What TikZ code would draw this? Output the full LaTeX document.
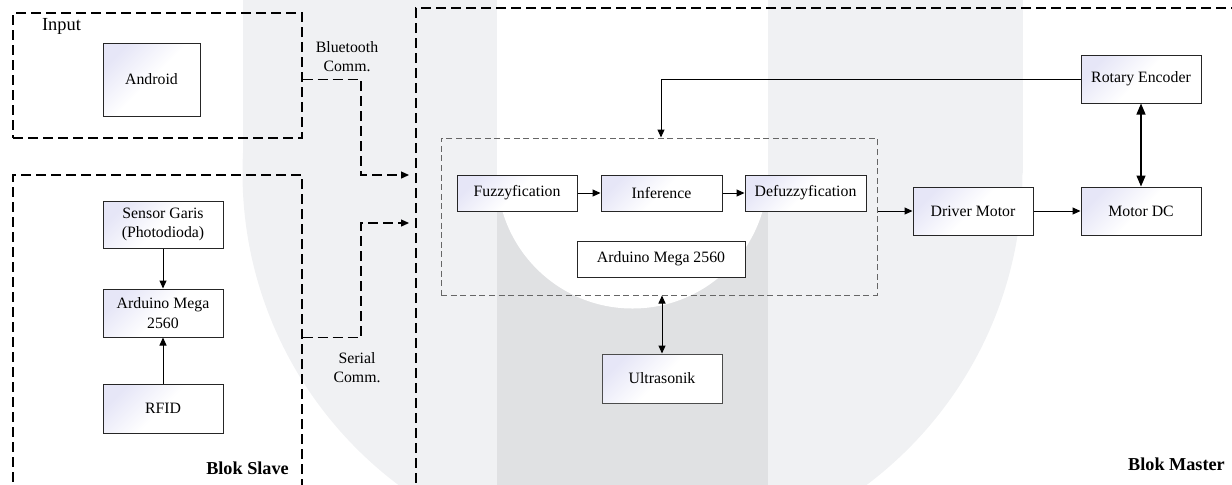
\documentclass[tikz,border=0pt]{standalone}
\usepackage{fontspec}
\setmainfont{Liberation Serif}
\usetikzlibrary{arrows.meta,calc}
\definecolor{wmlight}{RGB}{240,241,243}
\definecolor{wmdark}{RGB}{224,225,227}
\definecolor{lav}{RGB}{230,230,247}
\begin{document}
\begin{tikzpicture}[x=0.5pt,y=-0.5pt,
  txt/.style={font=\fontsize{7.9}{9.6}\selectfont, align=center},
  box/.style={txt, draw=black!85, line width=0.5pt, top color=lav, bottom color=white, middle color=white, shading angle=45, inner sep=1pt},
  plainbox/.style={txt, draw=black!85, line width=0.5pt, fill=white, inner sep=1pt},
  group/.style={draw=black, line width=0.65pt, dash pattern=on 5pt off 2.5pt},
  coregroup/.style={draw=black!60, line width=0.5pt, dash pattern=on 3pt off 1.8pt},
  arr/.style={-{Triangle[length=4pt,width=3.5pt]}, line width=0.5pt},
  darr/.style={{Triangle[length=4pt,width=3.5pt]}-{Triangle[length=4pt,width=3.5pt]}, line width=0.5pt},
  bigdarr/.style={{Triangle[length=5.5pt,width=4.5pt]}-{Triangle[length=5.5pt,width=4.5pt]}, line width=0.6pt},
  dasharr/.style={group, -{Triangle[length=4pt,width=3.5pt]}},
  blab/.style={font=\bfseries\fontsize{9.1}{11}\selectfont}
]
\clip (0,0) rectangle (1232,484);
% watermark
\fill[wmlight] (242.5,-10) rectangle (1022.5,173);
\fill[wmlight] (632.5,173) circle[radius=390];
\fill[wmdark] (497,173) rectangle (768,500);
\fill[white] (497,-10) rectangle (768,173);
\fill[white] (632.5,173) circle[radius=135.5];

% group frames
\node[group, minimum width=144.5pt, minimum height=62.5pt, inner sep=0pt] (inbox) at (157.5,75.5) {};
\node[group, minimum width=144.5pt, minimum height=162.5pt, inner sep=0pt] (slave) at (157.5,337.5) {};
\node[group, minimum width=417pt, minimum height=246pt, inner sep=0pt] (master) at (833,254) {};
\node[coregroup, minimum width=218pt, minimum height=78.5pt, inner sep=0pt] (core) at (659,216.5) {};

% labels
\node[font=\fontsize{9.2}{11}\selectfont] (inlbl) at (61.5,26) {Input};
\node[blab] (slavelbl) at (247.5,468) {Blok Slave};
\node[blab] (masterlbl) at (1176.5,464) {Blok Master};
\node[txt] (btlbl) at (347,56.5) {Bluetooth\\Comm.};
\node[txt] (serlbl) at (357,367.5) {Serial\\Comm.};

% boxes
\node[box, minimum width=48.5pt, minimum height=36.5pt] (android) at (151.5,79.5) {Android};
\node[box, minimum width=60pt, minimum height=23.5pt] (sensor) at (163,224.5) {Sensor Garis\\(Photodioda)};
\node[box, minimum width=60pt, minimum height=24pt] (ardS) at (163,313) {Arduino Mega\\2560};
\node[box, minimum width=60pt, minimum height=24.5pt] (rfid) at (163,408.5) {RFID};
\node[box, minimum width=60pt, minimum height=18pt] (fuzz) at (517,193) {Fuzzyfication};
\node[box, minimum width=60.5pt, minimum height=18pt] (inf) at (661.5,193) {Inference};
\node[box, minimum width=60.5pt, minimum height=18pt] (defuzz) at (805.5,193) {Defuzzyfication};
\node[plainbox, minimum width=84pt, minimum height=18pt] (ardM) at (661,259) {Arduino Mega 2560};
\node[box, minimum width=60pt, minimum height=24.5pt, draw=black!70] (ultra) at (662,378.5) {Ultrasonik};
\node[box, minimum width=60pt, minimum height=24pt] (driver) at (973,211) {Driver Motor};
\node[box, minimum width=60pt, minimum height=24pt] (motor) at (1141,211) {Motor DC};
\node[box, minimum width=60pt, minimum height=24pt] (rotary) at (1141,79) {Rotary Encoder};

% connector coordinates
\coordinate (jx) at (361,0);
\coordinate (btend) at (409,175);
\coordinate (seend) at (409,223);

% connectors
\draw[dasharr] (inbox.east |- android.center) -| (jx |- btend) -- (btend);
\draw[dasharr] (slave.east |- ardS.south) -| (jx |- seend) -- (seend);
\draw[arr] (sensor) -- (ardS);
\draw[arr] (rfid) -- (ardS);
\draw[arr] (fuzz) -- (inf);
\draw[arr] (inf) -- (defuzz);
\draw[arr] (driver.west -| core.east) -- (driver.west);
\draw[arr] (driver) -- (motor);
\draw[bigdarr] (rotary) -- (motor);
\draw[arr] (rotary.west) -| (ardM.north |- core.north);
\draw[darr] (ultra.north) -- (ultra.north |- core.south);
\end{tikzpicture}
\end{document}
